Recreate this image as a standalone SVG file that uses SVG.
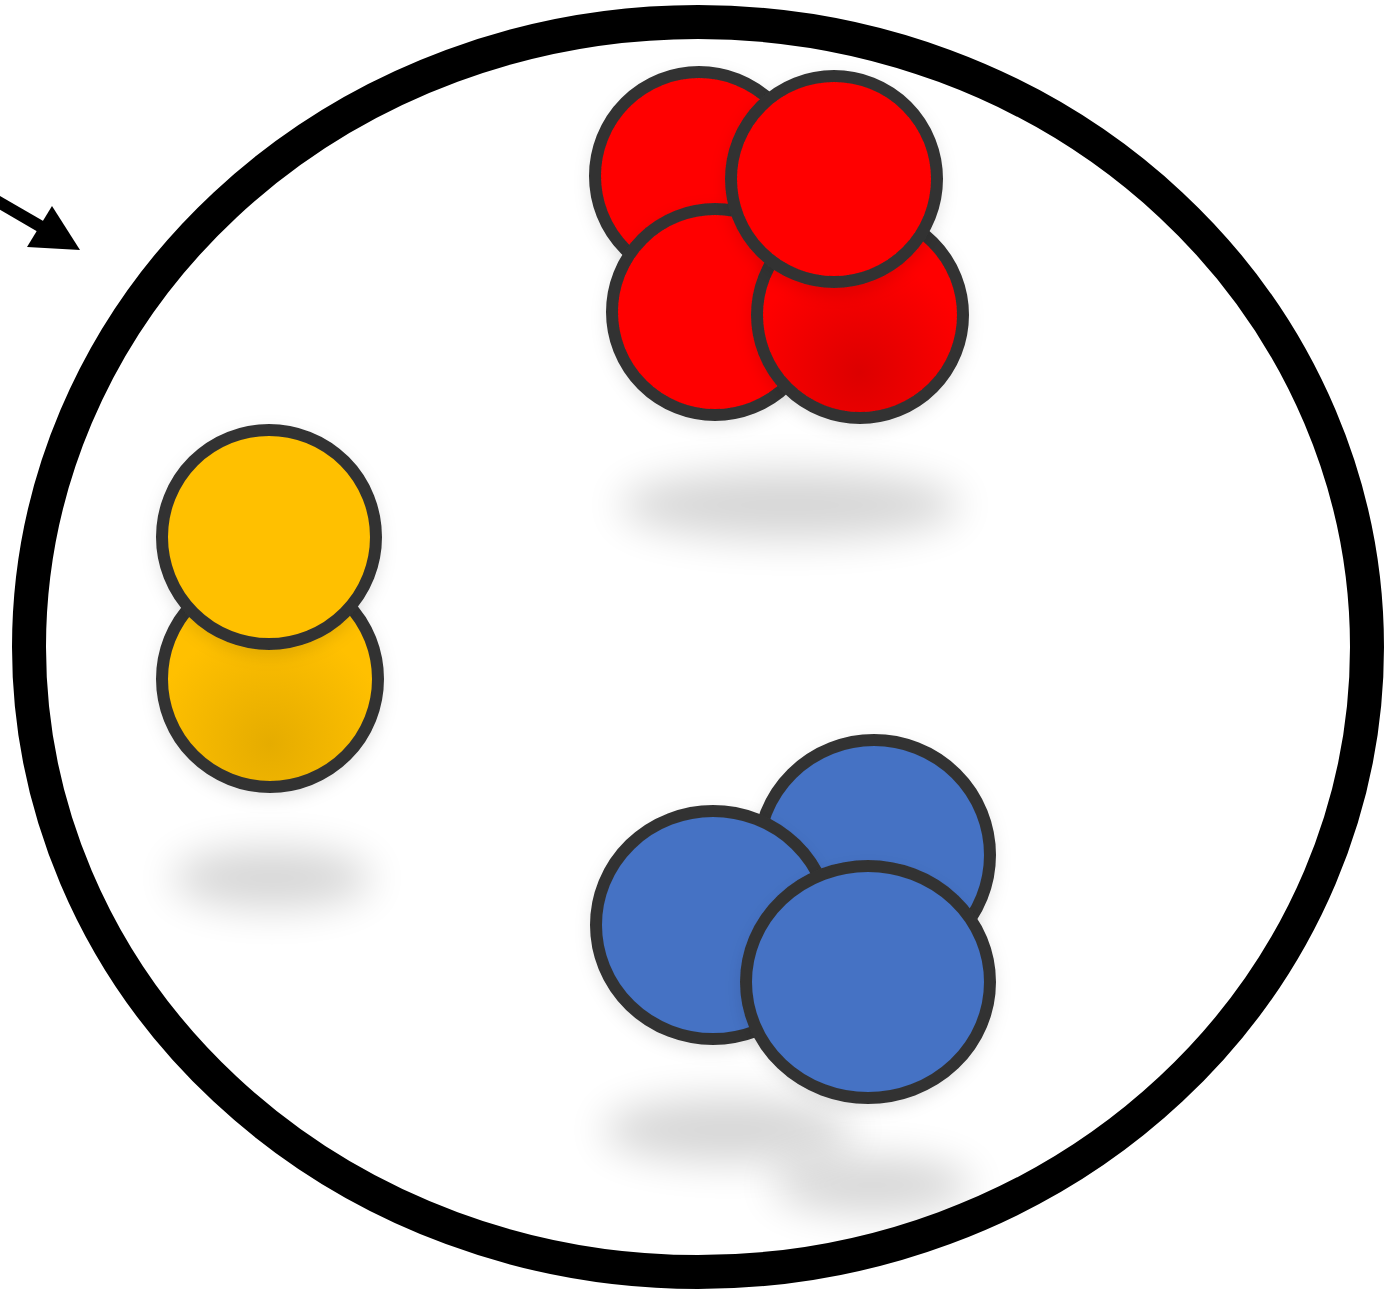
<svg xmlns="http://www.w3.org/2000/svg" width="1385" height="1291" viewBox="0 0 1385 1291">
<style>
.ball{stroke:#333333;stroke-width:12;filter:url(#soft)}
.red{fill:#FF0000}
.yel{fill:#FFC000}
.blu{fill:#4472C4}
.shadow{fill:#000;opacity:0.16;filter:url(#blur)}
</style>
<defs>
<filter id="blur" x="-50%" y="-150%" width="200%" height="400%"><feGaussianBlur stdDeviation="20"/></filter>
<filter id="soft" x="-20%" y="-20%" width="140%" height="150%"><feDropShadow dx="0" dy="6" stdDeviation="8" flood-color="#000" flood-opacity="0.1"/></filter>
<radialGradient id="redShade" cx="0.5" cy="0.78" r="0.55"><stop offset="0" stop-color="#DC0000"/><stop offset="1" stop-color="#FF0000"/></radialGradient>
<radialGradient id="yelShade" cx="0.5" cy="0.8" r="0.55"><stop offset="0" stop-color="#E5AC00"/><stop offset="1" stop-color="#FFC000"/></radialGradient>
</defs>
<rect width="1385" height="1291" fill="#ffffff"/>
<g id="container">
<ellipse cx="698" cy="647" rx="669" ry="625" fill="none" stroke="#000" stroke-width="34"/>
</g>
<g id="shadows">
<ellipse class="shadow" cx="790" cy="505" rx="170" ry="34"/>
<ellipse class="shadow" cx="272" cy="878" rx="100" ry="30"/>
<ellipse class="shadow" cx="728" cy="1130" rx="125" ry="32"/>
<ellipse class="shadow" cx="872" cy="1185" rx="100" ry="28"/>
</g>
<g id="red-cluster">
<circle class="ball red" cx="699" cy="176" r="104"/>
<circle class="ball red" cx="715" cy="312" r="103"/>
<circle class="ball" cx="860" cy="315" r="103" fill="url(#redShade)"/>
<circle class="ball red" cx="834" cy="179" r="103"/>
</g>
<g id="yellow-cluster">
<circle class="ball" cx="270" cy="679" r="108" fill="url(#yelShade)"/>
<circle class="ball yel" cx="269" cy="537" r="107"/>
</g>
<g id="blue-cluster">
<ellipse class="ball blu" cx="874" cy="855" rx="116" ry="115"/>
<ellipse class="ball blu" cx="713" cy="925" rx="117" ry="114"/>
<ellipse class="ball blu" cx="868" cy="982" rx="122" ry="116"/>
</g>
<g id="connectors">
<line x1="-5" y1="200" x2="45" y2="229" stroke="#000" stroke-width="12"/>
<polygon points="52,206 80,250 27,247" fill="#000"/>
</g>
</svg>
